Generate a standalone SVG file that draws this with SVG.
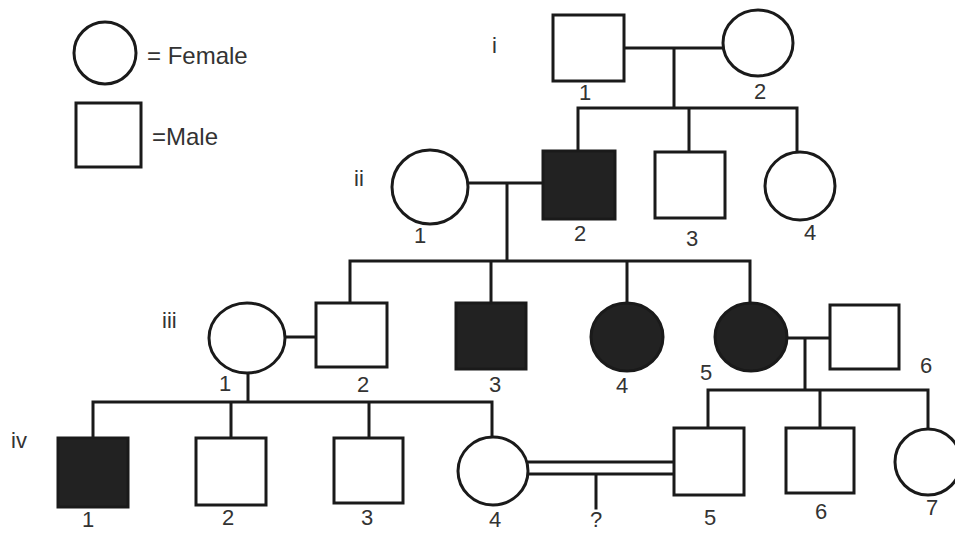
<svg xmlns="http://www.w3.org/2000/svg" width="955" height="533" viewBox="0 0 955 533">
  <style>
    .n { fill: #ffffff; stroke: #1a1a1a; stroke-width: 3; }
    .a { fill: #222222; stroke: #1a1a1a; stroke-width: 3; }
    .c { fill: none; stroke: #1a1a1a; stroke-width: 3; stroke-linecap: square; }
    .t { font-family: "Liberation Sans", Arial, sans-serif; font-size: 22px; fill: #333333; }
    .k { font-size: 24px; }
    .m { text-anchor: middle; }
  </style>
  <rect x="0" y="0" width="955" height="533" fill="#ffffff"/>

  <!-- key -->
  <g id="legend">
    <ellipse class="n" cx="105" cy="53" rx="31" ry="31"/>
    <text class="t k" x="147" y="64">= Female</text>
    <rect class="n" x="76" y="103" width="65" height="64"/>
    <text class="t k" x="152" y="145">=Male</text>
  </g>

  <!-- generation labels -->
  <g id="generations">
    <text class="t" x="492" y="53">i</text>
    <text class="t" x="354" y="186">ii</text>
    <text class="t" x="162" y="328">iii</text>
    <text class="t" x="11" y="448">iv</text>
  </g>

  <!-- mating and sibship lines -->
  <g id="connectors">
    <path class="c" d="M624 48 H723 M674 48 V108 M578 108 H797 M578 108 V151 M689 108 V152 M797 108 V152"/>
    <path class="c" d="M468 183 H543 M507 183 V261 M350 261 H750 M350 261 V303 M491 261 V303 M627 261 V303 M750 261 V303"/>
    <path class="c" d="M285 337 H316 M248 374 V402 M93 402 H492 M93 402 V438 M231 402 V438 M369 402 V438 M492 402 V437"/>
    <path class="c" d="M787 338 H830 M805 338 V390 M708 390 H928 M708 390 V428 M820 390 V428 M928 390 V428"/>
    <path class="c" d="M528 462 H674 M528 474 H674 M596 474 V508"/>
  </g>

  <!-- generation i -->
  <g id="i-1">
    <rect class="n" x="553" y="15" width="71" height="66"/>
    <text class="t m" x="585" y="100">1</text>
  </g>
  <g id="i-2">
    <ellipse class="n" cx="758" cy="43" rx="35" ry="33"/>
    <text class="t m" x="760" y="99">2</text>
  </g>

  <!-- generation ii -->
  <g id="ii-1">
    <ellipse class="n" cx="430" cy="187" rx="38" ry="37"/>
    <text class="t m" x="420" y="243">1</text>
  </g>
  <g id="ii-2">
    <rect class="a" x="543" y="151" width="72" height="68"/>
    <text class="t m" x="580" y="241">2</text>
  </g>
  <g id="ii-3">
    <rect class="n" x="655" y="152" width="70" height="66"/>
    <text class="t m" x="692" y="246">3</text>
  </g>
  <g id="ii-4">
    <ellipse class="n" cx="800" cy="186" rx="35" ry="34"/>
    <text class="t m" x="810" y="240">4</text>
  </g>

  <!-- generation iii -->
  <g id="iii-1">
    <ellipse class="n" cx="247" cy="338" rx="38" ry="35"/>
    <text class="t m" x="225" y="391">1</text>
  </g>
  <g id="iii-2">
    <rect class="n" x="316" y="303" width="71" height="64"/>
    <text class="t m" x="363" y="392">2</text>
  </g>
  <g id="iii-3">
    <rect class="a" x="456" y="303" width="70" height="66"/>
    <text class="t m" x="495" y="392">3</text>
  </g>
  <g id="iii-4">
    <ellipse class="a" cx="627" cy="337" rx="36" ry="34"/>
    <text class="t m" x="622" y="393">4</text>
  </g>
  <g id="iii-5">
    <ellipse class="a" cx="751" cy="337" rx="36" ry="34"/>
    <text class="t m" x="706" y="380">5</text>
  </g>
  <g id="iii-6">
    <rect class="n" x="830" y="305" width="69" height="64"/>
    <text class="t m" x="926" y="373">6</text>
  </g>

  <!-- generation iv -->
  <g id="iv-1">
    <rect class="a" x="58" y="438" width="70" height="69"/>
    <text class="t m" x="88" y="527">1</text>
  </g>
  <g id="iv-2">
    <rect class="n" x="196" y="438" width="70" height="67"/>
    <text class="t m" x="228" y="525">2</text>
  </g>
  <g id="iv-3">
    <rect class="n" x="334" y="438" width="69" height="65"/>
    <text class="t m" x="367" y="525">3</text>
  </g>
  <g id="iv-4">
    <ellipse class="n" cx="493" cy="471" rx="35" ry="34"/>
    <text class="t m" x="495" y="527">4</text>
  </g>
  <g id="iv-5">
    <rect class="n" x="674" y="428" width="70" height="67"/>
    <text class="t m" x="710" y="525">5</text>
  </g>
  <g id="iv-6">
    <rect class="n" x="786" y="428" width="68" height="65"/>
    <text class="t m" x="821" y="519">6</text>
  </g>
  <g id="iv-7">
    <ellipse class="n" cx="928" cy="462" rx="33" ry="33"/>
    <text class="t m" x="932" y="515">7</text>
  </g>
  <g id="unborn">
    <text class="t m" x="596" y="527">?</text>
  </g>
</svg>
